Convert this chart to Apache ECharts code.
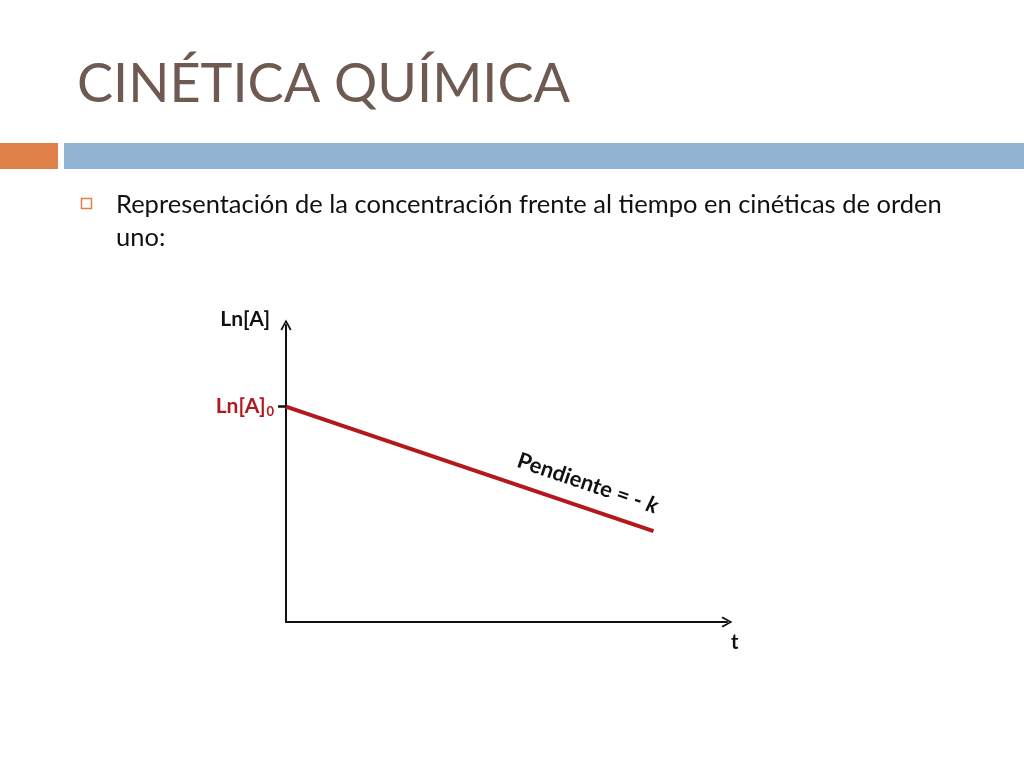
<!DOCTYPE html>
<html>
<head>
<meta charset="utf-8">
<script src="https://cdn.jsdelivr.net/npm/echarts@6/dist/echarts.min.js"></script>
<style>
  html, body { margin: 0; padding: 0; background: #ffffff; }
  #main { width: 1024px; height: 768px; }
</style>
</head>
<body>
<div id="main"></div>
<script>
// data
var tValues = [0, 10];
var lnAValues = [5.8, 2.45];
var yTickValues = [5.8];
var slideTitle = 'CINÉTICA QUÍMICA';
var bulletText = 'Representación de la concentración frente al tiempo en cinéticas de orden\nuno:';

var chartDom = document.getElementById('main');
var myChart = echarts.init(chartDom);
var option;

// open chevron pointing up, used as axis arrow
var chevron = 'path://M5,0 L10,9 L8.6,10 L5,3 L1.4,10 L0,9 Z';

option = {
    animation: false,
    title: {
        text: slideTitle,
        left: 72,
        top: 53,
        textStyle: {
            fontFamily: 'Lato',
            fontWeight: 'normal',
            fontSize: 54,
            color: '#6e5a51'
        }
    },
    graphic: [
        { type: 'rect', shape: { x: 0, y: 143, width: 58, height: 26 }, style: { fill: '#df8149' } },
        { type: 'rect', shape: { x: 64, y: 143, width: 960, height: 26 }, style: { fill: '#93b5d3' } },
        { type: 'rect', shape: { x: 81.5, y: 198.5, width: 10, height: 10 }, style: { fill: 'none', stroke: '#df8149', lineWidth: 1.5 } },
        {
            type: 'text', left: 116, top: 188,
            style: { text: bulletText, fontFamily: 'Lato', fontSize: 25.5, lineHeight: 33, fill: '#111111' }
        }
    ],
    grid: {
        left: 286,
        right: 297,
        top: 325,
        bottom: 146
    },
    xAxis: {
        type: 'value',
        min: 0,
        max: 12,
        name: 't',
        nameLocation: 'end',
        nameGap: 4,
        nameTextStyle: {
            fontFamily: 'Lato',
            fontWeight: 'bold',
            fontSize: 20,
            color: '#111',
            verticalAlign: 'top',
            padding: [11, 0, 0, 0]
        },
        splitLine: { show: false },
        axisTick: { show: false },
        axisLabel: { show: false },
        axisLine: {
            onZero: false,
            symbol: ['none', chevron],
            symbolSize: [16, 11],
            lineStyle: { color: '#111', width: 2 }
        }
    },
    yAxis: {
        type: 'value',
        min: 0,
        max: 8,
        name: 'Ln[A]',
        nameLocation: 'end',
        nameGap: 6,
        nameTextStyle: {
            fontFamily: 'Lato',
            fontWeight: 'bold',
            fontSize: 21,
            color: '#111',
            align: 'right',
            verticalAlign: 'middle',
            padding: [0, 16, 0, 0]
        },
        splitLine: { show: false },
        axisLine: {
            onZero: false,
            symbol: ['none', chevron],
            symbolSize: [16, 11],
            lineStyle: { color: '#111', width: 2 }
        },
        axisTick: {
            customValues: yTickValues,
            length: 8,
            lineStyle: { color: '#111', width: 2.5 }
        },
        axisLabel: {
            customValues: yTickValues,
            margin: 12,
            formatter: function () {
                return '{a|Ln[A]}{s|0}';
            },
            rich: {
                a: { fontFamily: 'Lato', fontWeight: 'bold', fontSize: 21, color: '#b3191c' },
                s: { fontFamily: 'Lato', fontWeight: 'bold', fontSize: 13, color: '#b3191c', padding: [10, 0, 0, 1] }
            }
        }
    },
    series: [
        {
            type: 'line',
            data: tValues.map(function (t, i) { return [t, lnAValues[i]]; }),
            symbol: 'none',
            lineStyle: { color: '#b3191c', width: 4 },
            markLine: {
                silent: true,
                symbol: 'none',
                lineStyle: { color: 'rgba(0,0,0,0)', width: 1 },
                label: {
                    show: true,
                    position: 'insideEndTop',
                    distance: [4, 13],
                    formatter: '{p|Pendiente = - }{k|k}',
                    rich: {
                        p: { fontFamily: 'Lato', fontWeight: 'bold', fontSize: 22, color: '#111' },
                        k: { fontFamily: 'Lato', fontWeight: 'bold', fontStyle: 'italic', fontSize: 22, color: '#111' }
                    }
                },
                data: [
                    [
                        { coord: [tValues[0], lnAValues[0]] },
                        { coord: [tValues[1], lnAValues[1]] }
                    ]
                ]
            }
        }
    ]
};

option && myChart.setOption(option);
</script>
</body>
</html>
